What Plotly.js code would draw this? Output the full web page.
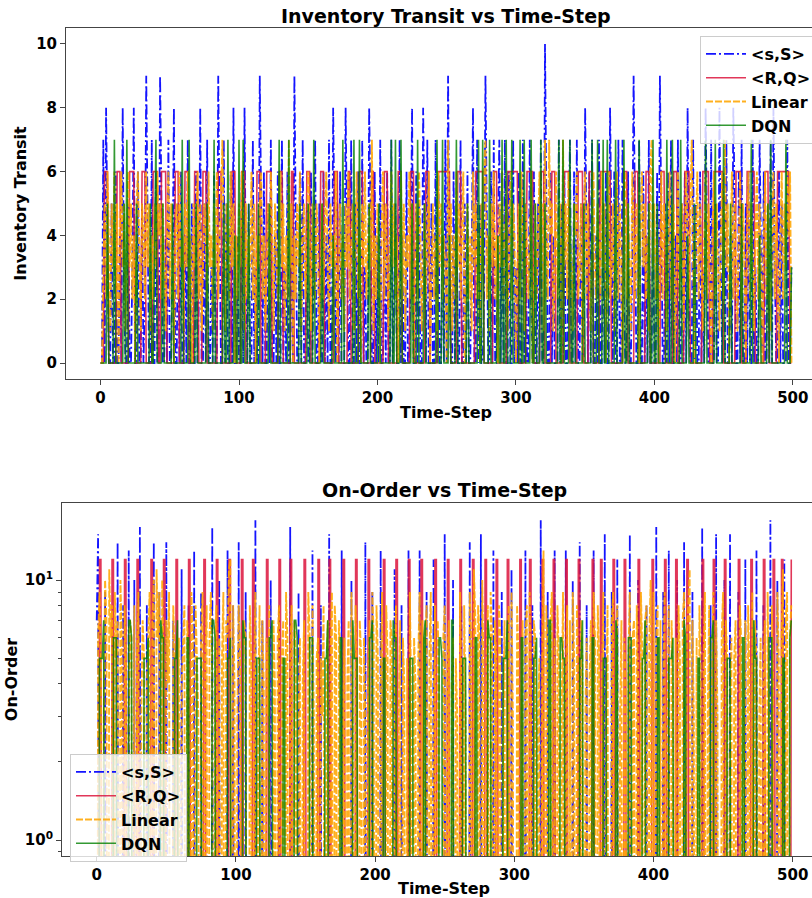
<!DOCTYPE html>
<html><head><meta charset="utf-8">
<script src="https://cdn.plot.ly/plotly-3.0.1.min.js"></script>
<style>html,body{margin:0;padding:0;overflow:hidden;background:#fff}#chart{width:830px;height:898px}</style>
</head><body><div id="chart"></div>
<script>
const seriesNames = ['&lt;s,S&gt;', '&lt;R,Q&gt;', 'Linear', 'DQN'];
const xTicks = [0, 100, 200, 300, 400, 500];
const yTicksTop = [0, 2, 4, 6, 8, 10];
const yTicksBottom = [1, 10];
const yTickTextBottom = ['10<sup>0</sup>', '10<sup>1</sup>'];

// Inventory Transit, <s,S>
const ssTransit = [
0,0,7,0,8,3,0,0,5,0, 0,6,0,0,4,0,8,2,0,0,
5,0,0,3,8,0,0,6,0,0, 5,0,2,9,4,0,0,7,0,0,
6,0,0,9,5,0,0,4,0,7, 0,0,3,8,0,0,5,0,6,0,
0,4,0,7,0,0,5,0,0,6, 0,2,8,0,0,5,0,7,0,0,
3,0,6,0,0,9,4,0,0,7, 0,5,0,0,6,0,8,0,0,4,
0,0,6,0,8,2,0,5,0,0, 7,0,3,0,0,9,5,0,6,0,
0,5,0,7,0,0,4,0,6,0, 0,7,0,3,0,6,0,0,5,0,
9,4,0,0,6,0,7,0,0,5, 0,0,6,0,3,7,0,0,5,0,
0,6,0,4,0,7,0,0,8,3, 0,5,0,6,0,0,0,8,4,0,
0,7,0,0,5,0,6,0,0,7, 0,3,0,0,8,5,0,0,6,0,
4,0,7,0,0,5,0,6,0,0, 7,0,2,5,0,0,7,0,4,0,
0,6,0,0,3,8,0,0,6,0, 5,0,0,8,4,0,7,0,0,5,
0,0,7,0,6,0,0,4,0,7, 0,9,3,0,0,6,0,5,0,0,
7,0,0,5,0,6,0,0,3,8, 0,0,7,0,5,0,0,2,9,4,
0,0,6,0,7,0,0,4,7,0, 5,0,7,0,0,6,0,0,7,0,
3,0,6,0,0,7,0,5,0,0, 7,2,0,6,0,0,5,0,7,0,
0,10,5,0,0,6,0,4,0,0, 0,7,0,5,0,6,0,0,3,7,
0,0,6,0,7,0,0,5,0,0, 8,3,0,6,0,7,0,0,4,0,
7,0,0,5,0,6,0,0,8,4, 0,6,0,0,7,0,0,7,2,0,
0,6,0,0,3,9,5,0,0,7, 0,0,6,0,4,0,7,0,0,5,
0,0,6,0,9,3,0,0,5,0, 6,0,7,0,0,4,0,7,0,0,
5,0,6,0,8,2,0,0,7,0, 5,0,0,6,0,3,0,8,4,0,
0,7,0,0,5,0,0,8,3,0, 6,0,7,0,0,4,0,8,5,0,
0,6,0,7,0,0,5,0,6,0, 0,7,0,3,0,0,7,4,0,6,
0,0,5,0,7,0,8,3,0,0, 6,0,5,0,0,0,7,0,0,3
];

// Inventory Transit, <R,Q>
const rqTransit = [
0,0,0,6,6,6,0,0,0,0, 0,0,6,6,6,0,0,0,0,0,
0,6,6,6,6,0,0,0,0,0, 6,6,6,0,0,0,0,0,6,6,
6,6,0,0,6,6,6,6,0,0, 0,0,0,0,6,6,6,0,0,0,
0,6,6,6,0,0,0,0,6,6, 6,0,0,0,6,6,6,0,0,0,
0,0,0,0,0,6,6,6,0,0, 0,0,0,0,0,6,6,6,0,0,
0,0,6,6,6,0,0,0,0,0, 0,0,0,6,6,6,0,0,0,0,
6,6,6,6,0,0,0,0,0,6, 6,6,0,0,0,0,0,0,6,6,
0,0,0,0,0,0,0,0,0,6, 6,6,0,0,0,0,0,0,0,6,
6,6,0,0,0,0,0,0,0,6, 6,6,0,0,0,0,0,0,0,6,
6,0,0,0,0,0,0,6,6,6, 0,0,0,0,0,0,6,6,0,0,
0,0,0,0,0,6,6,6,0,0, 0,0,0,0,0,6,6,6,0,0,
0,0,0,0,6,6,6,0,0,0, 0,0,0,0,0,6,6,6,0,0,
0,0,0,0,6,6,6,6,6,6, 6,6,6,0,0,0,0,0,6,6,
6,0,0,0,0,0,0,0,0,0, 0,6,6,6,6,6,6,0,0,0,
0,0,0,0,6,6,6,0,0,0, 0,0,0,0,6,6,6,6,6,6,
6,6,0,0,0,0,0,0,6,6, 6,6,6,0,0,0,0,0,6,6,
6,0,0,0,0,0,6,6,6,0, 0,0,0,0,0,6,6,6,6,0,
0,0,0,0,0,6,6,6,6,0, 0,0,0,6,6,6,0,0,0,0,
0,6,6,6,6,6,6,6,6,0, 0,0,0,0,0,0,0,0,6,6,
6,0,0,0,0,0,6,6,6,0, 0,0,0,0,6,6,6,0,0,0,
0,0,0,0,0,6,6,6,0,0, 0,0,0,0,6,6,6,0,0,0,
0,0,6,6,6,6,0,0,0,0, 0,0,0,0,0,6,6,6,6,6,
0,0,0,6,6,6,6,6,6,6, 0,0,0,0,0,0,0,0,0,6,
6,6,6,0,0,0,0,6,6,6, 6,6,6,0,0,0,0,0,0,0,
6,6,6,0,0,0,0,0,0,6, 6,6,6,6,6,6,6,6,0,0
];

// Inventory Transit, Linear
const linTransit = [
0,0,3,5,2,6,4,1,5,3, 6,2,5,0,4,6,3,5,1,4,
6,3,5,2,4,0,5,6,3,1, 5,4,2,6,3,5,1,4,2,5,
3,6,4,5,2,5,3,1,4,6, 2,5,3,0,4,5,2,6,3,4,
1,5,3,6,2,4,0,5,3,4, 6,2,5,1,3,5,4,2,6,3,
4,1,5,3,6,2,4,5,7,3, 1,5,4,2,6,3,5,0,4,2,
5,3,6,4,1,5,2,4,3,6, 2,5,0,4,3,5,6,2,4,1,
3,5,2,6,4,1,5,3,2,4, 6,3,5,1,4,2,7,3,5,0,
4,2,5,3,6,1,4,5,2,3, 6,4,1,5,3,2,5,4,0,3,
5,2,4,6,3,1,5,3,4,2, 6,0,3,5,2,4,1,5,3,6,
2,4,5,1,3,6,2,4,0,5, 3,6,2,4,5,3,7,1,4,2,
5,3,0,4,6,2,5,3,1,4, 6,3,5,2,4,0,3,6,2,5,
1,4,3,6,2,5,0,3,5,2, 6,4,1,3,5,2,4,6,0,3,
5,2,4,1,6,3,5,2,4,3, 0,7,3,5,1,4,2,6,3,5,
2,4,6,0,3,5,2,4,1,6, 3,5,2,4,0,5,3,6,7,2,
4,1,5,3,6,2,4,0,5,3, 6,2,4,5,1,3,6,2,5,4,
0,3,5,2,6,4,1,5,3,2, 4,6,0,3,5,2,4,6,3,5,
1,7,3,2,7,4,5,1,3,6, 2,4,5,0,7,3,5,2,6,4,
3,1,5,4,6,2,3,5,0,4, 6,2,5,3,1,4,6,3,2,5,
4,2,6,3,5,0,4,6,2,3, 5,1,4,6,2,5,3,0,4,6,
2,5,3,1,6,4,2,5,3,0, 4,6,3,5,2,4,1,6,7,3,
5,2,4,0,3,6,2,5,4,1, 3,6,2,4,5,0,3,6,2,4,
5,1,3,6,4,2,5,7,3,0, 4,6,2,5,3,1,4,6,2,5,
3,0,4,6,2,5,3,1,4,6, 2,7,3,5,0,4,6,2,5,3,
1,4,6,2,5,3,0,4,6,2, 5,3,1,4,6,2,5,3,0,4,
6,2,5,3,1,4,6,2,5,3, 0,4,6,2,5,3,6,4,6,0
];

// Inventory Transit, DQN
const dqnTransit = [
0,0,0,0,0,5,0,0,0,0, 7,0,0,0,0,0,0,5,0,7,
0,0,0,0,0,0,5,0,0,0, 0,0,0,0,0,0,5,0,0,4,
7,0,0,0,0,5,0,0,0,0, 0,0,5,0,0,0,0,0,0,7,
0,0,0,0,7,0,0,0,0,5, 0,0,0,0,0,0,0,5,0,0,
0,0,7,0,0,0,0,0,0,5, 0,0,7,0,0,0,0,4,0,0,
7,0,0,7,0,0,0,5,0,0, 0,0,0,0,5,0,0,0,0,0,
0,0,5,0,0,0,0,0,0,7, 0,0,0,0,0,0,7,0,0,0,
0,0,0,0,5,0,0,0,0,0, 5,0,0,0,7,0,0,0,0,0,
5,0,0,0,0,0,0,0,4,0, 0,0,0,0,0,7,0,0,0,0,
0,0,0,7,0,0,0,7,0,0, 0,0,0,0,5,0,0,0,0,0,
0,5,0,0,0,0,0,0,0,0, 7,0,0,7,0,0,0,7,0,0,
0,0,0,0,0,5,0,0,0,7, 0,0,0,0,5,0,0,0,0,0,
0,0,0,7,0,0,0,7,0,0, 0,0,4,0,0,0,0,7,0,0,
0,0,0,0,0,5,0,0,0,0, 0,0,0,7,0,0,7,0,0,0,
0,7,0,0,0,0,0,4,0,0, 7,0,0,7,0,0,0,7,0,0,
0,0,0,7,0,0,7,0,0,0, 0,7,0,0,5,0,0,0,7,0,
0,5,0,0,0,0,0,0,0,0, 0,7,0,0,7,0,0,0,0,7,
0,0,5,0,0,0,0,0,0,5, 0,0,0,0,0,7,0,0,0,7,
0,0,0,7,0,0,7,0,0,0, 0,0,7,0,0,0,0,0,7,0,
0,5,0,0,0,0,0,0,0,7, 0,0,0,0,0,0,5,0,0,7,
0,0,5,0,0,0,0,0,0,7, 0,0,0,7,0,0,0,0,0,7,
0,0,0,0,4,0,0,0,0,5, 0,0,0,0,0,0,0,7,0,0,
0,0,0,0,7,0,0,0,0,0, 7,0,0,0,0,5,0,0,0,0,
0,0,0,5,0,0,0,0,0,0, 7,0,0,0,0,0,4,0,0,0,
0,0,5,0,7,0,0,0,0,0, 0,0,0,0,0,7,0,0,0,3
];

// On-Order, <s,S>
const ssOnOrder = [
7,15,0,0,0,0,9,0,0,0, 0,0,0,0,0,14,0,0,0,8,
0,0,0,13,0,0,0,10,0,0, 0,16,0,0,0,0,8,0,0,0,
0,14,0,0,0,9,0,0,0,0, 14,0,0,0,0,7,0,0,0,0,
0,11,0,0,0,0,8,0,0,0, 13,0,0,0,0,9,0,0,0,0,
0,0,0,16,0,0,0,0,10,0, 0,0,0,0,13,0,0,0,8,0,
0,0,14,0,0,0,0,9,0,0, 0,0,0,0,17,0,0,0,0,7,
0,0,0,0,0,10,0,0,0,0, 0,8,0,0,0,0,0,0,0,16,
0,0,0,0,0,9,0,0,0,0, 0,0,0,0,0,13,0,0,0,0,
0,8,0,0,0,0,0,15,0,0, 0,0,0,0,0,0,13,0,0,0,
0,0,0,10,0,0,0,0,0,0, 0,0,0,14,0,0,0,0,9,0,
0,0,0,0,13,0,0,0,0,0, 0,0,0,0,11,0,0,0,0,8,
0,0,0,0,13,0,0,0,0,0, 0,0,13,0,0,0,0,9,0,0,
0,0,12,0,0,0,0,0,0,0, 15,0,0,0,0,0,10,0,0,0,
0,0,8,0,0,0,0,0,14,0, 0,0,0,0,0,0,15,0,0,0,
0,0,0,0,0,13,0,0,0,0, 0,9,0,0,0,0,0,0,11,0,
0,0,0,0,0,0,0,0,13,0, 0,0,0,8,0,0,0,0,0,17,
0,0,0,0,9,0,0,0,0,13, 0,0,0,0,0,0,0,13,0,0,
0,0,10,0,0,0,0,14,0,0, 0,0,8,0,0,0,0,13,0,0,
0,0,0,0,0,15,0,0,0,0, 9,0,0,0,12,0,0,0,0,0,
0,0,0,15,0,0,0,0,0,10, 0,0,0,0,0,8,0,0,0,0,
0,0,16,0,0,0,0,9,0,0, 0,13,0,0,0,0,0,10,0,0,
0,0,14,0,0,0,0,0,9,0, 0,0,0,0,0,16,0,0,0,0,
0,8,0,0,0,15,0,0,0,0, 0,10,0,0,0,15,0,0,0,0,
0,9,0,0,0,0,12,0,0,0, 0,0,0,0,13,0,0,0,0,8,
0,0,0,0,17,0,0,0,0,10, 0,0,0,0,12,0,0,0,0,0
];

// On-Order, <R,Q>
const rqOnOrder = [
0,0,12,12,0,0,0,0,0,0, 0,12,12,0,0,0,0,0,0,0,
12,12,0,0,0,0,0,0,0,12, 12,0,0,0,0,0,0,0,0,12,
12,0,0,0,0,0,0,0,12,12, 0,0,0,0,0,0,0,12,12,0,
0,0,0,0,0,0,12,12,0,0, 0,0,0,0,0,0,0,12,12,0,
0,0,0,0,0,0,12,12,0,0, 0,0,0,0,0,12,12,0,0,0,
0,0,0,0,12,12,0,0,0,0, 0,0,12,12,0,0,0,0,0,0,
0,0,12,12,0,0,0,0,0,0, 0,12,12,0,0,0,0,0,0,12,
12,0,0,0,0,0,0,0,0,12, 12,0,0,0,0,0,0,0,0,12,
12,0,0,0,0,0,0,12,12,0, 0,0,0,0,0,0,0,12,12,0,
0,0,0,0,0,0,12,12,0,0, 0,0,0,0,0,12,12,0,0,0,
0,0,0,0,0,0,12,12,0,0, 0,0,0,0,0,12,12,0,0,0,
0,0,0,0,12,12,0,0,0,0, 0,0,0,12,12,0,0,0,0,0,
0,0,0,12,12,0,0,0,0,0, 0,0,12,12,0,0,0,0,0,0,
0,12,12,0,0,0,0,0,0,0, 12,12,0,0,0,0,0,0,0,12,
12,0,0,0,0,0,0,12,12,0, 0,0,0,0,0,12,12,0,0,0,
0,0,0,0,12,12,0,0,0,0, 0,12,12,0,0,0,0,0,0,0,
12,12,0,0,0,0,0,0,12,12, 0,0,0,0,0,0,0,12,12,0,
0,0,0,0,0,0,12,12,0,0, 0,0,0,0,0,0,12,12,0,0,
0,0,12,12,0,0,0,0,0,0, 0,12,12,0,0,0,0,0,0,12,
12,0,0,0,0,0,0,0,0,12, 12,0,0,0,0,0,0,0,0,12,
12,0,0,0,0,0,0,0,12,12, 0,0,0,0,0,0,12,12,0,0,
0,0,0,0,12,12,0,0,0,0, 0,0,0,0,0,12,12,0,0,0,
0,0,0,12,12,0,0,0,0,0, 0,12,12,0,0,0,0,0,0,0,
0,12,12,0,0,0,0,0,0,0, 12,12,0,0,0,0,0,0,0,12,
12,0,0,0,0,0,12,12,0,0, 0,0,12,12,0,0,0,0,0,12
];

// On-Order, Linear
const linOnOrder = [
0,6,9,5,0,3,10,7,0,11, 6,8,0,9,5,7,0,10,6,0,
8,5,0,3,7,6,0,8,0,5, 9,0,3,7,5,0,4,6,9,0,
7,10,0,11,6,9,0,10,5,0, 7,4,9,0,0,8,5,0,3,6,
0,4,6,8,0,7,5,0,9,6, 0,8,5,3,0,6,9,0,5,8,
0,6,9,4,0,5,8,0,6,0, 5,9,0,7,6,11,12,0,8,4,
0,3,8,5,0,4,7,6,0,0, 8,5,0,4,9,0,3,8,0,7,
4,0,6,3,8,0,0,7,4,0, 6,8,0,5,7,0,9,6,0,5,
8,0,7,5,0,3,6,0,4,7, 0,0,9,6,0,8,3,0,5,6,
0,5,3,8,0,4,7,0,5,9, 0,8,6,0,7,5,0,3,6,0,
4,7,0,9,3,0,8,4,0,7, 5,0,6,3,0,4,7,0,9,6,
0,8,5,0,4,9,0,0,8,5, 0,7,6,0,4,8,0,3,7,0,
6,4,0,5,0,9,3,0,6,4, 0,5,9,0,7,0,6,8,0,5,
9,0,3,8,0,7,4,0,0,6, 8,0,5,7,0,4,6,0,5,3,
0,9,4,0,8,3,0,0,9,6, 0,11,7,0,8,6,0,10,4,0,
5,8,0,9,6,0,7,5,0,8, 6,0,3,7,0,4,8,0,9,3,
0,0,8,5,0,4,7,0,6,8, 0,9,4,0,7,6,0,3,5,0,
4,13,0,8,5,0,7,9,0,6, 0,8,5,0,3,9,0,4,8,0,
7,0,9,5,0,8,4,0,7,5, 0,3,6,0,4,7,0,9,6,0,
8,5,0,4,9,0,3,8,0,0, 7,9,0,6,8,0,3,7,0,6,
4,0,5,9,0,6,7,0,8,4, 0,9,5,0,7,8,0,6,10,0,
9,0,6,8,0,7,0,4,9,0, 3,8,0,7,4,0,6,0,8,5,
0,7,9,0,6,8,11,0,7,3, 0,6,0,8,4,0,5,9,0,3,
8,0,4,9,0,7,3,0,0,6, 9,0,7,5,0,3,6,0,5,7,
0,0,8,6,0,3,7,0,8,4, 0,9,0,7,5,0,3,6,0,4,
7,0,9,3,0,8,4,0,0,9, 5,0,6,11,0,7,9,0,6,8
];

// On-Order, DQN
const dqnOnOrder = [
0,0,5,5,5,7,0,0,0,0, 0,0,6,6,6,0,0,0,0,0,
0,0,0,7,7,6,0,0,0,0, 0,0,0,0,5,5,5,6,0,0,
0,0,0,0,0,0,7,6,6,0, 0,0,0,0,0,0,5,5,7,0,
0,0,0,0,0,6,6,0,0,0, 0,0,5,5,5,5,0,0,0,0,
0,0,0,7,7,6,0,0,0,0, 0,0,0,0,5,5,6,0,0,0,
0,0,0,0,0,7,6,6,0,0, 0,0,0,0,0,5,5,5,0,0,
0,0,0,0,6,6,7,0,0,0, 0,0,0,0,5,5,0,0,0,0,
0,0,7,7,6,0,0,0,0,0, 0,0,0,6,6,6,0,0,0,0,
0,0,0,0,5,5,7,0,0,0, 0,0,0,0,0,6,6,0,0,0,
0,0,0,0,7,5,5,5,0,0, 0,0,0,0,0,0,6,6,7,0,
0,0,0,0,0,0,5,5,0,0, 0,0,0,7,6,6,0,0,0,0,
0,0,0,0,0,5,5,5,0,0, 0,0,0,0,0,6,7,0,0,0,
0,0,0,0,0,0,6,6,5,0, 0,0,0,0,0,7,7,0,0,0,
0,0,0,5,5,5,0,0,0,0, 0,0,6,6,0,0,0,0,0,0,
0,7,6,6,0,0,0,0,0,0, 0,0,5,5,5,7,0,0,0,0,
0,0,0,0,0,6,6,0,0,0, 0,0,0,0,5,5,6,0,0,0,
0,0,0,0,0,7,7,0,0,0, 0,0,0,6,6,5,5,0,0,0,
0,0,0,0,0,0,0,5,5,7, 0,0,0,0,0,0,6,6,0,0,
0,0,0,0,5,5,5,0,0,0, 0,0,0,7,6,0,0,0,0,0,
0,0,6,6,6,0,0,0,0,0, 0,0,5,5,7,0,0,0,0,0,
0,0,0,6,6,0,0,0,0,0, 0,5,5,5,6,0,0,0,0,0,
0,0,7,6,0,0,0,0,0,0, 0,0,5,5,0,0,0,0,0,0,
0,6,6,7,0,0,0,0,0,0, 0,0,0,5,5,5,0,0,0,0,
0,0,0,0,6,6,0,0,0,0, 0,0,7,5,5,0,0,0,0,0,
0,0,0,6,6,6,0,0,0,0, 0,0,0,5,5,0,0,0,6,7
];

const FONT = 'DejaVu Sans';
const styles = [
  {color: 'rgba(0,0,255,0.92)', dash: '10px,3px,2px,3px', width: 1.8},
  {color: 'rgba(220,20,60,0.85)', dash: 'solid', width: 1.6},
  {color: 'rgba(255,165,0,0.88)', dash: '7px,2px', width: 1.9},
  {color: 'rgba(0,128,0,0.8)', dash: 'solid', width: 1.6}
];
const topSeries = [ssTransit, rqTransit, linTransit, dqnTransit];
const botSeries = [ssOnOrder, rqOnOrder, linOnOrder, dqnOnOrder];
// matplotlib clips non-positive values on log axes (lines dive below the frame)
const logClip = v => (v > 0 ? v : 1e-3);

const traces = [];
topSeries.forEach((ys, k) => {
  traces.push({
    x: ys.map((_, i) => i), y: ys, type: 'scatter', mode: 'lines',
    name: seriesNames[k], xaxis: 'x', yaxis: 'y', legend: 'legend',
    line: {color: styles[k].color, width: styles[k].width, dash: styles[k].dash}
  });
});
botSeries.forEach((ys, k) => {
  traces.push({
    x: ys.map((_, i) => i), y: ys.map(logClip), type: 'scatter', mode: 'lines',
    name: seriesNames[k], xaxis: 'x2', yaxis: 'y2', legend: 'legend2',
    line: {color: styles[k].color, width: styles[k].width, dash: styles[k].dash}
  });
});

const W = 830, H = 898;
const tickFont = {family: FONT, size: 15, color: '#000', weight: 'bold'};
const labFont = {family: FONT, size: 16, color: '#000', weight: 'bold'};
const axBase = {
  showgrid: false, zeroline: false, showline: true, mirror: true,
  linecolor: '#444', linewidth: 1, ticks: 'outside', ticklen: 5,
  tickcolor: '#444', tickfont: tickFont, automargin: false
};
const legBase = {
  font: {family: FONT, size: 16, color: '#000', weight: 'bold'},
  bgcolor: 'rgba(255,255,255,0.8)', bordercolor: '#cccccc', borderwidth: 1,
  xanchor: 'left', yanchor: 'top', itemwidth: 40
};
const ann = (text, x, y, size) => ({
  text: text, x: x, y: y, xref: 'paper', yref: 'paper', showarrow: false,
  xanchor: 'center', yanchor: 'middle',
  font: {family: FONT, size: size, color: '#000', weight: 'bold'}
});

const layout = {
  width: W, height: H,
  margin: {l: 0, r: 0, t: 0, b: 0},
  paper_bgcolor: '#fff', plot_bgcolor: '#fff',
  showlegend: true,
  xaxis: Object.assign({}, axBase, {
    domain: [66 / W, 826 / W], range: [-24.95, 523.95], tickvals: xTicks, anchor: 'y',
    title: {text: 'Time-Step', font: labFont, standoff: 0}
  }),
  yaxis: Object.assign({}, axBase, {
    domain: [1 - 379 / H, 1 - 28 / H], range: [-0.5, 10.5], tickvals: yTicksTop, anchor: 'x',
    title: {text: 'Inventory Transit', font: labFont, standoff: 5}
  }),
  xaxis2: Object.assign({}, axBase, {
    domain: [62 / W, 826 / W], range: [-24.95, 523.95], tickvals: xTicks, anchor: 'y2',
    title: {text: 'Time-Step', font: labFont, standoff: 0}
  }),
  yaxis2: Object.assign({}, axBase, {
    domain: [1 - 856 / H, 1 - 503 / H], type: 'log',
    range: [Math.log10(0.868), Math.log10(19.8)],
    tickvals: yTicksBottom, ticktext: yTickTextBottom, anchor: 'x2',
    minor: {tickvals: [0.9, 2, 3, 4, 5, 6, 7, 8, 9], ticks: 'outside', ticklen: 3, tickcolor: '#444', showgrid: false},
    title: {text: 'On-Order', font: labFont, standoff: 3}
  }),
  legend: Object.assign({}, legBase, {x: 700 / W, y: 1 - 36 / H}),
  legend2: Object.assign({}, legBase, {x: 70 / W, y: 1 - 754 / H}),
  annotations: [
    ann('Inventory Transit vs Time-Step', 446 / W, 1 - 16 / H, 19),
    ann('On-Order vs Time-Step', 444 / W, 1 - 490 / H, 19)
  ]
};

Plotly.newPlot('chart', traces, layout, {staticPlot: true, displayModeBar: false});
</script>
</body></html>
